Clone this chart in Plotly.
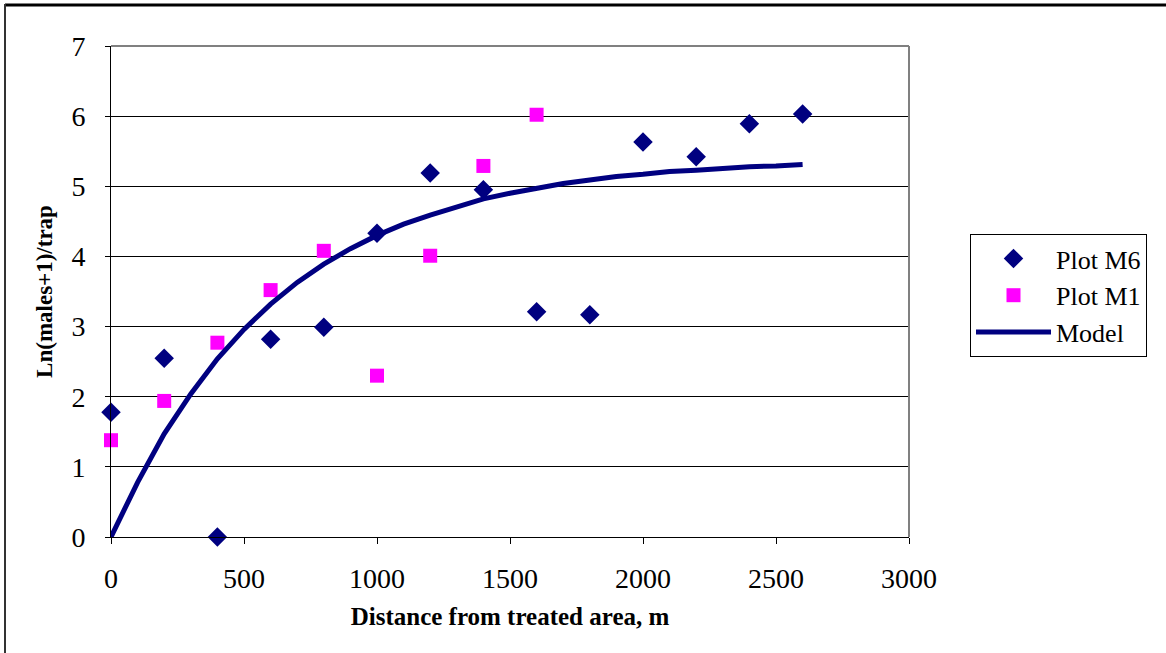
import plotly.graph_objects as go

# Data
m6_x = [0, 200, 400, 600, 800, 1000, 1200, 1400, 1600, 1800, 2000, 2200, 2400, 2600]
m6_y = [1.78, 2.55, 0.0, 2.82, 2.99, 4.33, 5.19, 4.95, 3.21, 3.17, 5.63, 5.42, 5.89, 6.03]

m1_x = [0, 200, 400, 600, 800, 1000, 1200, 1400, 1600]
m1_y = [1.38, 1.94, 2.77, 3.52, 4.08, 2.30, 4.01, 5.29, 6.02]

model_x = [0, 100, 200, 300, 400, 500, 600, 700, 800, 900, 1000, 1100, 1200, 1300,
           1400, 1500, 1600, 1700, 1800, 1900, 2000, 2100, 2200, 2300, 2400, 2500, 2600]
model_y = [0.0, 0.78, 1.47, 2.04, 2.54, 2.96, 3.32, 3.63, 3.89, 4.11, 4.30, 4.46, 4.59, 4.71,
           4.82, 4.90, 4.97, 5.04, 5.09, 5.14, 5.17, 5.21, 5.23, 5.26, 5.28, 5.29, 5.31]

x_ticks = [0, 500, 1000, 1500, 2000, 2500, 3000]
y_ticks = [0, 1, 2, 3, 4, 5, 6, 7]

W, H = 1166, 653
L, R, T, B = 111, 257, 46, 116
pw, ph = W - L - R, H - T - B

def px_x(p):
    return (p - L) / pw

def px_y(p):
    return (H - B - p) / ph

FONT = "Liberation Serif"

fig = go.Figure()
fig.add_trace(go.Scatter(
    x=m6_x, y=m6_y, mode="markers", name="Plot M6",
    marker=dict(symbol="diamond", size=15, color="#000080"),
    cliponaxis=False,
))
fig.add_trace(go.Scatter(
    x=m1_x, y=m1_y, mode="markers", name="Plot M1",
    marker=dict(symbol="square", size=14, color="#FF00FF"),
    cliponaxis=False,
))
fig.add_trace(go.Scatter(
    x=model_x, y=model_y, mode="lines", name="Model",
    line=dict(color="#000080", width=5),
    cliponaxis=False,
))

fig.update_layout(
    width=W, height=H,
    margin=dict(l=L, r=R, t=T, b=B, autoexpand=False),
    paper_bgcolor="white", plot_bgcolor="white",
    font=dict(family=FONT, color="black"),
    showlegend=True,
    legend=dict(
        x=px_x(970), y=px_y(234), xanchor="left", yanchor="top",
        bordercolor="black", borderwidth=1, bgcolor="white",
        font=dict(family=FONT, size=26, color="black"),
        itemwidth=75,
    ),
    xaxis=dict(
        range=[0, 3000], tickvals=x_ticks, ticktext=[str(v) for v in x_ticks],
        showgrid=False, zeroline=False,
        showline=True, linecolor="black", linewidth=1,
        ticks="outside", ticklen=6, tickcolor="black",
        tickfont=dict(family=FONT, size=28, color="black"),
        ticklabelstandoff=10,
        title=dict(text="<b>Distance from treated area, m</b>",
                   font=dict(family=FONT, size=25, color="black"), standoff=14),
    ),
    yaxis=dict(
        range=[0, 7], tickvals=y_ticks, ticktext=[str(v) for v in y_ticks],
        showgrid=True, gridcolor="black", gridwidth=1, zeroline=False,
        showline=True, linecolor="black", linewidth=1,
        ticks="outside", ticklen=5, tickcolor="black",
        tickfont=dict(family=FONT, size=28, color="black"),
        ticklabelstandoff=14,
        title=dict(text="<b>Ln(males+1)/trap</b>",
                   font=dict(family=FONT, size=23, color="black"), standoff=12),
    ),
)

# Plot-area top and right borders (gray)
fig.add_shape(type="line", xref="paper", yref="paper", x0=0, x1=1, y0=1, y1=1,
              line=dict(color="#808080", width=2), layer="above")
fig.add_shape(type="line", xref="paper", yref="paper", x0=1, x1=1, y0=0, y1=1,
              line=dict(color="#808080", width=2), layer="above")

# Outer chart frame (top and left)
fig.add_shape(type="line", xref="paper", yref="paper",
              x0=px_x(5), x1=px_x(W + 5), y0=px_y(5), y1=px_y(5),
              line=dict(color="black", width=3))
fig.add_shape(type="line", xref="paper", yref="paper",
              x0=px_x(5), x1=px_x(5), y0=px_y(4), y1=px_y(H + 5),
              line=dict(color="#333333", width=2))

fig.write_html("out.html")
